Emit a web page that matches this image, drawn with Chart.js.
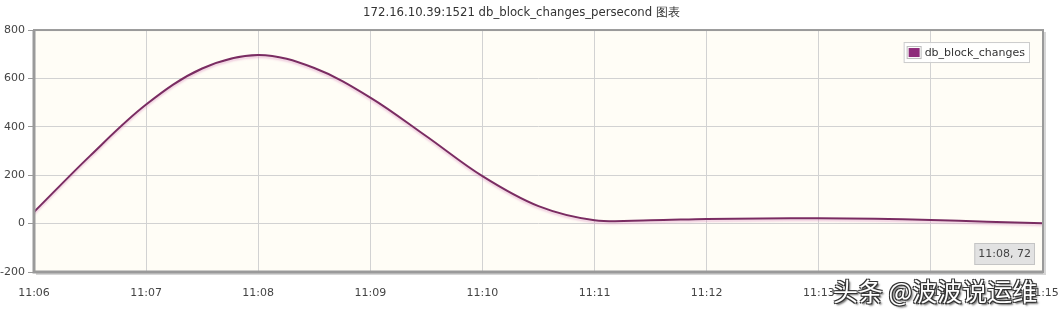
<!DOCTYPE html>
<html>
<head>
<meta charset="utf-8">
<script src="https://cdn.jsdelivr.net/npm/chart.js@4.4.1/dist/chart.umd.min.js"></script>
<style>
  html, body { margin: 0; padding: 0; background: #fff; }
  #wrap { position: relative; width: 1063px; height: 312px; }
  #mark {
    position: absolute; left: 833px; top: 272px;
    font-family: "Noto Sans CJK SC", sans-serif; font-size: 25px; color: #fff;
    text-shadow: -1px -1px 0 #333, 1px -1px 0 #333, -1px 1px 0 #333, 1px 1px 0 #333, 2px 2px 2px #555;
    white-space: nowrap;
  }
</style>
</head>
<body>
<div id="wrap">
  <canvas id="dbChart" width="1063" height="312"></canvas>
  <div id="mark">头条 @波波说运维</div>
</div>
<script>
// chart data
const chartTitle = '172.16.10.39:1521 db_block_changes_persecond 图表';
const seriesName = 'db_block_changes';
const sampleTimes = [
  '11:06:00', '11:06:30', '11:07:00', '11:07:30', '11:08:00', '11:08:30',
  '11:09:00', '11:09:30', '11:10:00', '11:10:30', '11:11:00', '11:11:30',
  '11:12:00', '11:12:30', '11:13:00', '11:13:30', '11:14:00', '11:14:30', '11:15:00'
];
const blockChanges = [
  48, 280, 492, 641, 697, 643,
  521, 361, 196, 72, 14, 14,
  19, 21, 22, 20, 15, 8, 1
];
const yTicks = [-200, 0, 200, 400, 600, 800];
const hoverReadout = '11:08, 72';

const startMinute = 11 * 60 + 6;

function toMinutes(t) {
  const p = t.split(':').map(Number);
  return p[0] * 60 + p[1] + (p[2] || 0) / 60 - startMinute;
}

function minuteLabel(v) {
  const m = startMinute + v;
  return Math.floor(m / 60) + ':' + String(m % 60).padStart(2, '0');
}

const points = sampleTimes.map((t, i) => ({ x: toMinutes(t), y: blockChanges[i] }));

const FONT = '"DejaVu Sans", Verdana, sans-serif';
const LINE = '#7a2c62';

/* =========================
   PLOT FRAME, LEGEND, READOUT
========================= */

const plotFrame = {
  id: 'plotFrame',
  beforeDraw(chart) {
    const { ctx, chartArea: a } = chart;
    ctx.save();
    ctx.fillStyle = '#fffdf6';
    ctx.fillRect(a.left, a.top, a.right - a.left, a.bottom - a.top);
    ctx.restore();
  },
  beforeDatasetsDraw(chart) {
    const ctx = chart.ctx;
    ctx.save();
    ctx.shadowColor = 'rgba(220, 140, 190, 0.45)';
    ctx.shadowOffsetY = 2;
    ctx.shadowBlur = 2;
  },
  afterDatasetsDraw(chart) {
    chart.ctx.restore();
  },
  afterDraw(chart) {
    const { ctx, chartArea: a } = chart;
    ctx.save();
    // shadow on right and bottom
    ctx.strokeStyle = '#d6d6d6';
    ctx.lineWidth = 2;
    ctx.beginPath();
    ctx.moveTo(a.right + 2, a.top + 2);
    ctx.lineTo(a.right + 2, a.bottom + 2);
    ctx.lineTo(a.left + 2, a.bottom + 2);
    ctx.stroke();
    // frame
    ctx.strokeStyle = '#9a9a9a';
    ctx.lineWidth = 2;
    ctx.strokeRect(a.left, a.top, a.right - a.left, a.bottom - a.top);
    ctx.lineWidth = 3;
    ctx.beginPath();
    ctx.moveTo(a.left, a.top);
    ctx.lineTo(a.left, a.bottom);
    ctx.lineTo(a.right, a.bottom);
    ctx.stroke();

    // legend box
    const ds = chart.data.datasets[0];
    ctx.font = '11px ' + FONT;
    const tw = ctx.measureText(ds.label).width;
    const lw = tw + 26, lh = 21;
    const lx = a.right - 13 - lw, ly = a.top + 12;
    ctx.fillStyle = 'rgba(255, 255, 255, 0.85)';
    ctx.fillRect(lx, ly, lw, lh);
    ctx.strokeStyle = '#cccccc';
    ctx.lineWidth = 1;
    ctx.strokeRect(lx + 0.5, ly + 0.5, lw - 1, lh - 1);
    ctx.strokeStyle = '#bbbbbb';
    ctx.strokeRect(lx + 3.5, ly + 4.5, 14, 12);
    ctx.fillStyle = '#8e2b7a';
    ctx.fillRect(lx + 5, ly + 6, 11, 9);
    ctx.fillStyle = '#333';
    ctx.textBaseline = 'middle';
    ctx.fillText(ds.label, lx + 21, ly + lh / 2 + 0.5);

    // hover readout
    const rw = ctx.measureText(hoverReadout).width + 8, rh = 22;
    const rx = a.right - 8 - rw, ry = a.bottom - 7 - rh;
    ctx.fillStyle = '#e2e2e2';
    ctx.fillRect(rx, ry, rw, rh);
    ctx.strokeStyle = '#c4c4c4';
    ctx.strokeRect(rx + 0.5, ry + 0.5, rw - 1, rh - 1);
    ctx.fillStyle = '#444';
    ctx.fillText(hoverReadout, rx + 4, ry + rh / 2 + 0.5);
    ctx.restore();
  }
};

/* =========================
   CHART
========================= */

new Chart(document.getElementById('dbChart'), {
  type: 'line',
  data: {
    datasets: [{
      label: seriesName,
      data: points,
      borderColor: LINE,
      borderWidth: 2,
      pointRadius: 0,
      fill: false,
      tension: 0.35
    }]
  },
  options: {
    responsive: false,
    animation: false,
    layout: { padding: { left: 0, right: 20, top: 0, bottom: 0 } },
    plugins: {
      legend: { display: false },
      tooltip: { enabled: false },
      title: {
        display: true,
        text: chartTitle,
        color: '#333',
        font: { family: FONT, size: 11.7, weight: 'normal' },
        padding: { top: 6, bottom: 10 }
      }
    },
    scales: {
      x: {
        type: 'linear',
        min: 0,
        max: 9,
        afterFit: s => { s.height = 40; s.paddingLeft = 0; s.paddingRight = 0; },
        afterBuildTicks: s => { s.ticks = sampleTimes.filter(t => t.endsWith(':00')).map(t => ({ value: toMinutes(t) })); },
        ticks: {
          color: '#444',
          font: { family: FONT, size: 11 },
          padding: 15,
          maxRotation: 0,
          autoSkip: false,
          callback: v => minuteLabel(v)
        },
        grid: { color: '#d2d2d2', drawTicks: false },
        border: { display: false }
      },
      y: {
        min: -200,
        max: 800,
        afterFit: s => { s.width = 34; s.paddingTop = 0; s.paddingBottom = 0; },
        afterBuildTicks: s => { s.ticks = yTicks.map(v => ({ value: v })); },
        ticks: {
          color: '#444',
          font: { family: FONT, size: 11 },
          padding: 3
        },
        grid: {
          color: '#d2d2d2',
          tickLength: 6,
          tickColor: '#9a9a9a'
        },
        border: { display: false }
      }
    }
  },
  plugins: [plotFrame]
});
</script>
</body>
</html>
